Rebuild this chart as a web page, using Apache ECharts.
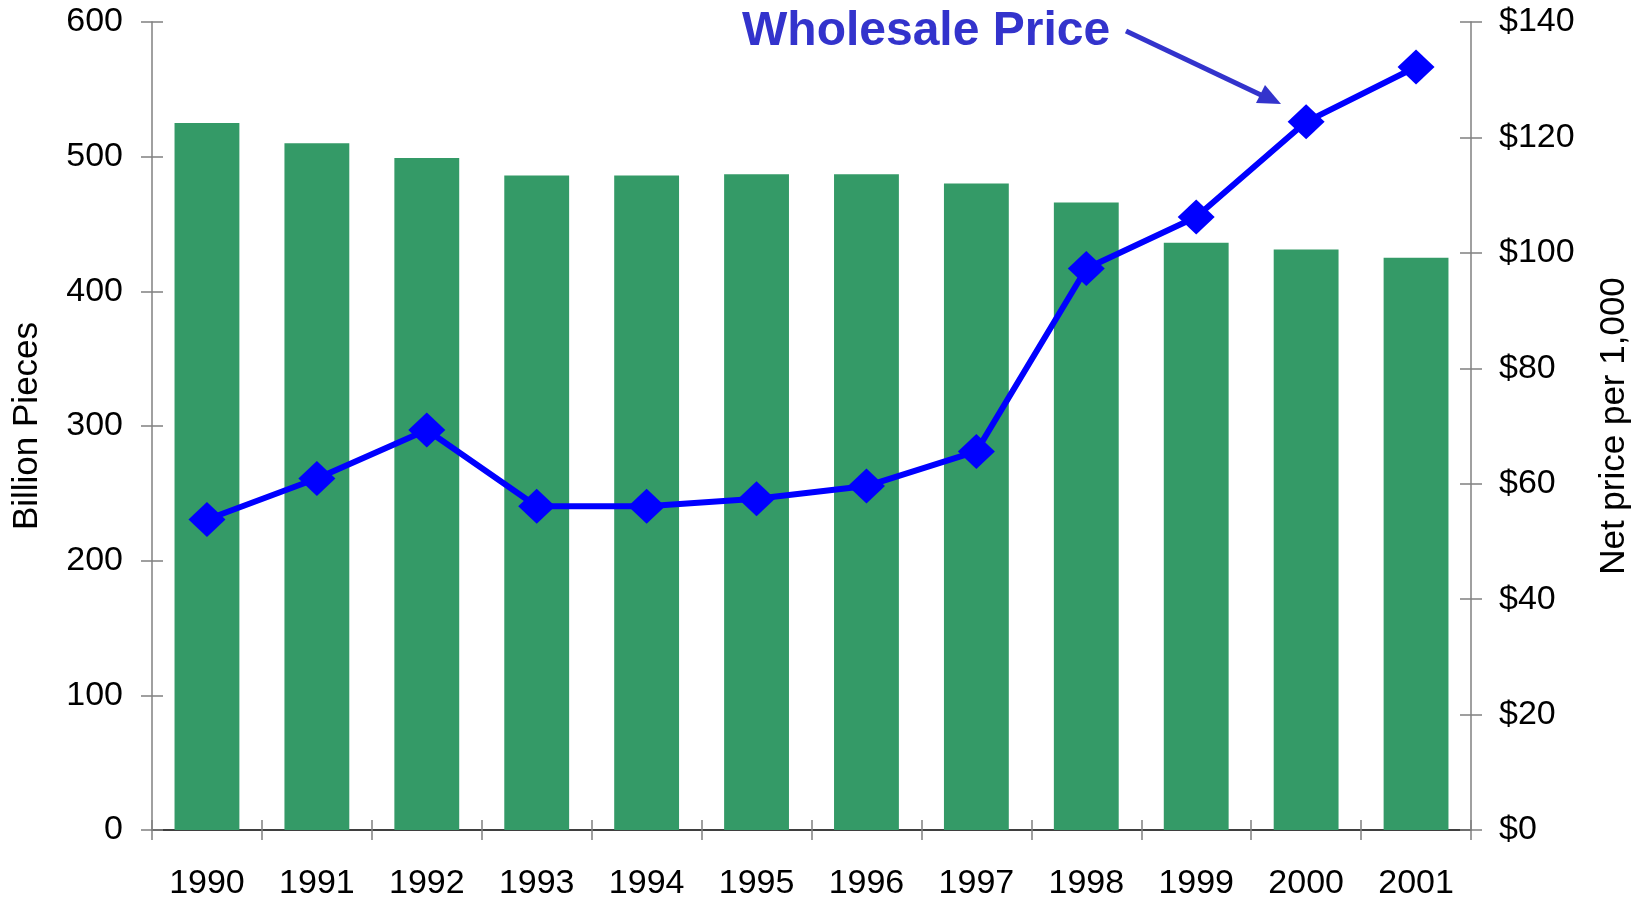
<!DOCTYPE html>
<html>
<head>
<meta charset="utf-8">
<script src="https://cdn.jsdelivr.net/npm/echarts@6/dist/echarts.min.js"></script>
<style>
html,body{margin:0;padding:0;background:#fff;}
#main{width:1646px;height:901px;}
</style>
</head>
<body>
<div id="main"></div>
<script>
// data
var years = ['1990','1991','1992','1993','1994','1995','1996','1997','1998','1999','2000','2001'];
var pieces = [525, 510, 499, 486, 486, 487, 487, 480, 466, 436, 431, 425];
var price = [53.8, 60.9, 69.3, 56.1, 56.1, 57.4, 59.6, 65.6, 97.3, 106.2, 122.7, 132.2];

var FONT = 'Liberation Sans, Arial, sans-serif';
var labelStyle = { color: '#000', fontSize: 34, fontFamily: FONT };

var myChart = echarts.init(document.getElementById('main'));

// tick-only axis (inside ticks), so ticks cross the axis line like the original
function innerY(pos, max, interval) {
	return {
		type: 'value', position: pos, min: 0, max: max, interval: interval,
		axisLine: { show: false },
		axisTick: { show: true, inside: true, length: 11, lineStyle: { color: '#808080', width: 1.5 } },
		axisLabel: { show: false },
		splitLine: { show: false }
	};
}

var option = {
	animation: false,
	grid: { left: 152, right: 175, top: 22, bottom: 71 },
	xAxis: [
		{
			type: 'category', data: years,
			axisLine: { show: true, lineStyle: { color: '#000', width: 1.5 } },
			axisTick: { show: true, length: 10, lineStyle: { color: '#808080', width: 1.5 } },
			axisLabel: Object.assign({ margin: 37 }, labelStyle),
			splitLine: { show: false }
		},
		{
			type: 'category', data: years, position: 'bottom',
			axisLine: { show: false },
			axisTick: { show: true, inside: true, length: 10, lineStyle: { color: '#808080', width: 1.5 } },
			axisLabel: { show: false }
		}
	],
	yAxis: [
		{
			type: 'value', position: 'left', min: 0, max: 600, interval: 100,
			name: 'Billion Pieces', nameLocation: 'middle', nameGap: 107, nameRotate: 90,
			nameTextStyle: { color: '#000', fontSize: 35, fontFamily: FONT },
			axisLine: { show: true, lineStyle: { color: '#808080', width: 1.5 } },
			axisTick: { show: true, length: 11, lineStyle: { color: '#808080', width: 1.5 } },
			axisLabel: Object.assign({ margin: 29 }, labelStyle),
			splitLine: { show: false }
		},
		{
			type: 'value', position: 'right', min: 0, max: 140, interval: 20,
			name: 'Net price per 1,000', nameLocation: 'middle', nameGap: 126, nameRotate: 90,
			nameTextStyle: { color: '#000', fontSize: 35, fontFamily: FONT },
			axisLine: { show: true, lineStyle: { color: '#808080', width: 1.5 } },
			axisTick: { show: true, length: 11, lineStyle: { color: '#808080', width: 1.5 } },
			axisLabel: Object.assign({ margin: 28, formatter: '${value}' }, labelStyle),
			splitLine: { show: false }
		},
		innerY('left', 600, 100),
		innerY('right', 140, 20)
	],
	series: [
		{
			type: 'bar', name: 'Billion Pieces', data: pieces,
			xAxisIndex: 0, yAxisIndex: 0,
			barWidth: '59%',
			itemStyle: { color: '#349a67' }
		},
		{
			type: 'line', name: 'Wholesale Price', data: price,
			xAxisIndex: 0, yAxisIndex: 1,
			symbol: 'diamond', symbolSize: [37, 35],
			lineStyle: { color: '#0000ff', width: 6 },
			itemStyle: { color: '#0000ff' },
			z: 5
		}
	],
	graphic: [
		{
			type: 'text', left: 742, top: 8,
			style: { text: 'Wholesale Price', fill: '#3333cc', font: 'bold 48px ' + FONT }
		},
		{
			type: 'line',
			shape: { x1: 1126, y1: 31, x2: 1261, y2: 95 },
			style: { stroke: '#3333cc', lineWidth: 5 }
		},
		{
			type: 'polygon',
			shape: { points: [[1281, 104], [1256, 103], [1265, 85]] },
			style: { fill: '#3333cc' }
		}
	]
};
myChart.setOption(option);
</script>
</body>
</html>
